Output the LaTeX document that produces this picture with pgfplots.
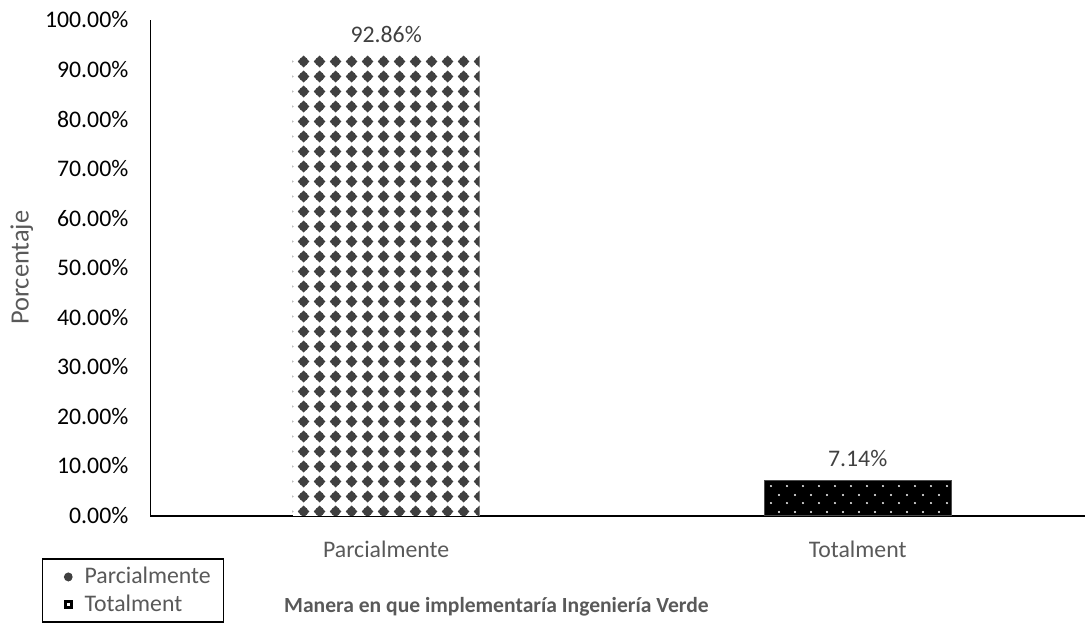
\documentclass[border=0pt]{standalone}
\usepackage{pgfplots}
\pgfplotsset{compat=1.18}
\usepackage{fontspec}
\setmainfont{Carlito}
\usetikzlibrary{patterns}
\definecolor{txtgray}{HTML}{595959}
\definecolor{dotgray}{HTML}{404040}
\definecolor{lblgray}{HTML}{404040}

\pgfdeclarepatternformonly{diadots}{\pgfqpoint{0pt}{0pt}}{\pgfqpoint{7.8pt}{7.5pt}}{\pgfqpoint{7.8pt}{7.5pt}}{%
  \pgfpathmoveto{\pgfqpoint{3.9pt}{0.75pt}}%
  \pgfpathlineto{\pgfqpoint{6.9pt}{3.75pt}}%
  \pgfpathlineto{\pgfqpoint{3.9pt}{6.75pt}}%
  \pgfpathlineto{\pgfqpoint{0.9pt}{3.75pt}}%
  \pgfpathclose
  \pgfpathcircle{\pgfqpoint{3.9pt}{3.75pt}}{2.35pt}%
  \pgfusepath{fill}}

\pgfdeclarepatternformonly{wdots}{\pgfqpoint{0pt}{0pt}}{\pgfqpoint{8pt}{8.3pt}}{\pgfqpoint{8pt}{8.3pt}}{%
  \pgfpathcircle{\pgfqpoint{2pt}{2pt}}{0.55pt}%
  \pgfpathcircle{\pgfqpoint{6pt}{6.15pt}}{0.55pt}%
  \pgfusepath{fill}}

\begin{document}
\begin{tikzpicture}[font=\fontsize{11.9}{14.2}\selectfont]
\begin{axis}[
  at={(0,0)}, anchor=south west, scale only axis,
  width=467.75pt, height=248pt,
  xmin=-0.5, xmax=1.482, ymin=0, ymax=100,
  axis x line*=bottom, axis y line*=left,
  x axis line style={line width=1pt, black},
  y axis line style={line width=0.75pt, black},
  major tick length=0pt,
  xtick={0,1}, xticklabels={Parcialmente,Totalment},
  ytick={0,10,20,30,40,50,60,70,80,90,100},
  yticklabels={0.00\%,10.00\%,20.00\%,30.00\%,40.00\%,50.00\%,60.00\%,70.00\%,80.00\%,90.00\%,100.00\%},
  xticklabel style={text=txtgray, yshift=-9pt},
  yticklabel style={text=black, xshift=-7.5pt},
  ylabel={Porcentaje},
  ylabel style={at={(axis description cs:-0.1374,0.5)}, anchor=center, text=txtgray, font=\fontsize{13.2}{15.8}\selectfont},
  title={\bfseries Manera en que implementaría Ingeniería Verde},
  title style={at={(axis description cs:0.3703,-0.2077)}, anchor=center, text=txtgray, font=\fontsize{10.8}{13}\selectfont},
  legend style={at={(axis description cs:-0.116,-0.0867)}, anchor=north west,
    draw=black, line width=0.75pt, text=txtgray, legend cell align=left,
    row sep=0pt, inner xsep=0pt, inner ysep=2pt},
  ybar, bar width=93.5pt, bar shift=0pt,
  nodes near coords, point meta=explicit symbolic,
  every node near coord/.append style={text=lblgray, yshift=3pt},
]
\addplot[draw=none, fill=white, postaction={pattern=diadots, pattern color=dotgray},
  legend image code/.code={%
    \pgfpathrectangle{\pgfqpoint{0pt}{-1pt}}{\pgfqpoint{19pt}{2pt}}\pgfusepath{use as bounding box}%
    \fill[dotgray] (12.8pt,0pt) circle (2.2pt);}]
  coordinates {(0,92.86) [92.86\%]};
\addlegendentry{Parcialmente\rule{4.5pt}{0pt}}
\addplot[draw=black!70, line width=0.4pt, fill=black, postaction={pattern=wdots, pattern color=white},
  legend image code/.code={%
    \pgfpathrectangle{\pgfqpoint{0pt}{-1pt}}{\pgfqpoint{19pt}{2pt}}\pgfusepath{use as bounding box}%
    \pgfsetfillcolor{black}\pgfpathrectangle{\pgfqpoint{10.5pt}{-2.3pt}}{\pgfqpoint{4.6pt}{4.6pt}}\pgfusepath{fill}%
    \pgfsetfillcolor{white}\pgfpathrectangle{\pgfqpoint{12.1pt}{-0.7pt}}{\pgfqpoint{1.4pt}{1.4pt}}\pgfusepath{fill}}]
  coordinates {(1,7.14) [7.14\%]};
\addlegendentry{Totalment}
\end{axis}
\path[use as bounding box] (-75.25pt,-52.5pt) rectangle (467.75pt,258pt);
\end{tikzpicture}
\end{document}
